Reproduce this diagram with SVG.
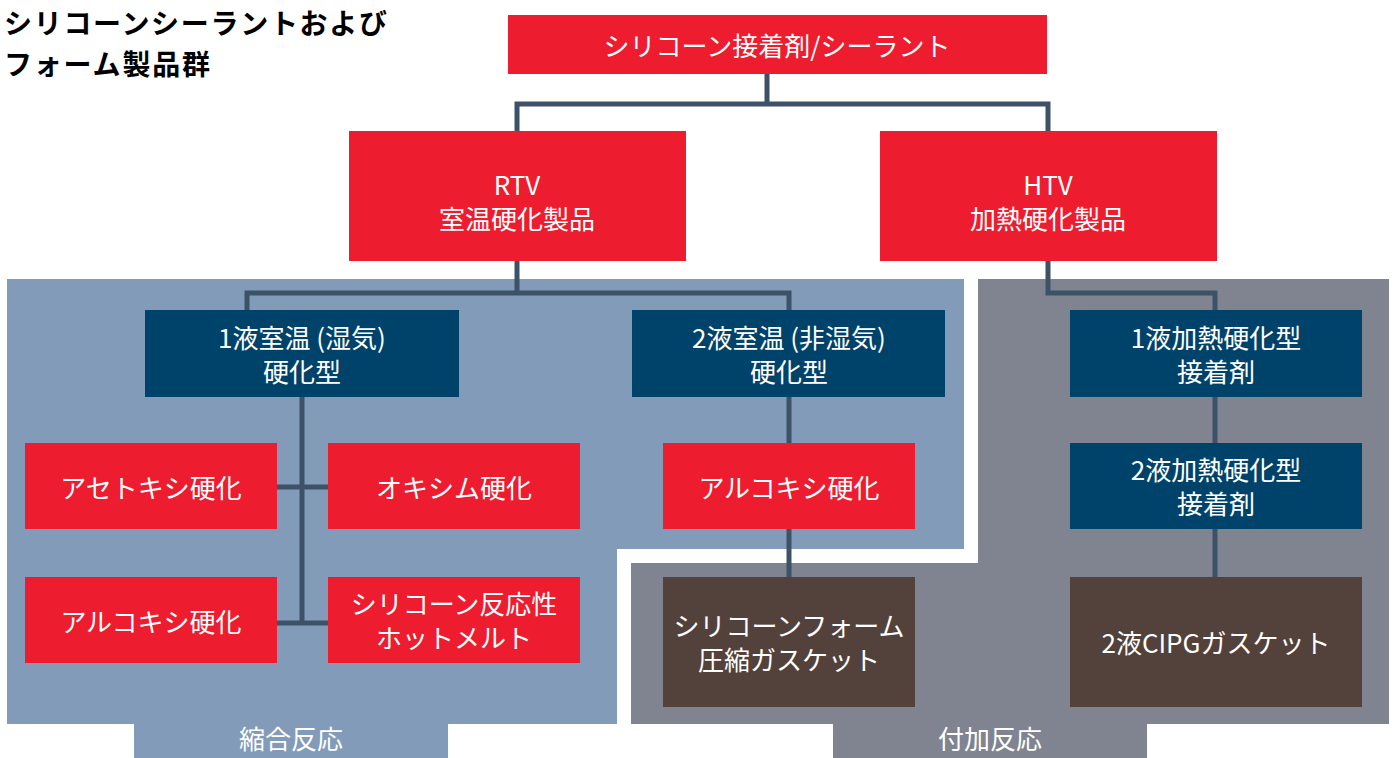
<svg xmlns="http://www.w3.org/2000/svg" width="1397" height="758" viewBox="0 0 1397 758">
<style>
.red{fill:#ED1C2E}.navy{fill:#00436A}.brown{fill:#53423B}
.t{font-family:"Noto Sans CJK JP","Noto Sans",sans-serif;font-size:26px;fill:#fff;text-anchor:middle;dominant-baseline:central}
.lbl{font-family:"Noto Sans CJK JP","Noto Sans",sans-serif;font-size:26px;fill:#fff;text-anchor:middle;dominant-baseline:central}
.title{font-family:"Noto Sans CJK JP","Noto Sans",sans-serif;font-size:28px;font-weight:bold;fill:#000}
.c{fill:none;stroke:#3D5267;stroke-width:5}
</style>
<rect width="1397" height="758" fill="#fff"/>
<g id="region-condensation">
<path d="M7 279 H964 V549 H617 V724 H448 V758 H134 V724 H7 Z" fill="#819BB8"/>
<text class="lbl" x="291" y="737">縮合反応</text>
</g>
<g id="region-addition">
<path d="M978 279 H1389 V724 H1147 V758 H833 V724 H631 V563 H978 Z" fill="#7F8490"/>
<text class="lbl" x="990" y="737">付加反応</text>
</g>
<text class="title" x="4" y="34" textLength="383" lengthAdjust="spacing">シリコーンシーラントおよび</text>
<text class="title" x="4" y="75" textLength="206" lengthAdjust="spacing">フォーム製品群</text>
<g id="connectors">
<path class="c" d="M767 74 V104 M517 131 V104 H1048 V131"/>
<path class="c" d="M517 261 V293 M247 310 V293 H789 V310"/>
<path class="c" d="M1048 261 V293 H1215 V310"/>
<path class="c" d="M302 397 V623 M277 487 H328 M277 623 H328"/>
<path class="c" d="M789 397 V443 M789 529 V577"/>
<path class="c" d="M1215 397 V443 M1215 529 V577"/>
</g>
<g id="n-top"><rect class="red" x="508" y="15" width="539" height="59"/><text class="t" x="777" y="44">シリコーン接着剤/シーラント</text></g>
<g id="n-rtv"><rect class="red" x="349" y="131" width="337" height="130"/><text class="t" x="517" y="183">RTV</text><text class="t" x="517" y="217">室温硬化製品</text></g>
<g id="n-htv"><rect class="red" x="880" y="131" width="337" height="130"/><text class="t" x="1048" y="183">HTV</text><text class="t" x="1048" y="217">加熱硬化製品</text></g>
<g id="n-1rt"><rect class="navy" x="145" y="310" width="314" height="87"/><text class="t" x="302" y="336">1液室温 (湿気)</text><text class="t" x="302" y="370">硬化型</text></g>
<g id="n-2rt"><rect class="navy" x="632" y="310" width="313" height="87"/><text class="t" x="789" y="336">2液室温 (非湿気)</text><text class="t" x="789" y="370">硬化型</text></g>
<g id="n-1ht"><rect class="navy" x="1070" y="310" width="292" height="87"/><text class="t" x="1216" y="336">1液加熱硬化型</text><text class="t" x="1216" y="370">接着剤</text></g>
<g id="n-2ht"><rect class="navy" x="1070" y="443" width="292" height="86"/><text class="t" x="1216" y="468">2液加熱硬化型</text><text class="t" x="1216" y="502">接着剤</text></g>
<g id="n-acetoxy"><rect class="red" x="25" y="443" width="252" height="86"/><text class="t" x="151" y="486">アセトキシ硬化</text></g>
<g id="n-oxime"><rect class="red" x="328" y="443" width="252" height="86"/><text class="t" x="454" y="486">オキシム硬化</text></g>
<g id="n-alkoxy2"><rect class="red" x="663" y="443" width="252" height="86"/><text class="t" x="789" y="486">アルコキシ硬化</text></g>
<g id="n-alkoxy1"><rect class="red" x="25" y="577" width="252" height="86"/><text class="t" x="151" y="620">アルコキシ硬化</text></g>
<g id="n-hotmelt"><rect class="red" x="328" y="577" width="252" height="86"/><text class="t" x="454" y="602">シリコーン反応性</text><text class="t" x="454" y="636">ホットメルト</text></g>
<g id="n-foam"><rect class="brown" x="663" y="577" width="252" height="130"/><text class="t" x="789" y="624">シリコーンフォーム</text><text class="t" x="789" y="658">圧縮ガスケット</text></g>
<g id="n-cipg"><rect class="brown" x="1070" y="577" width="292" height="130"/><text class="t" x="1216" y="641">2液CIPGガスケット</text></g>
</svg>
